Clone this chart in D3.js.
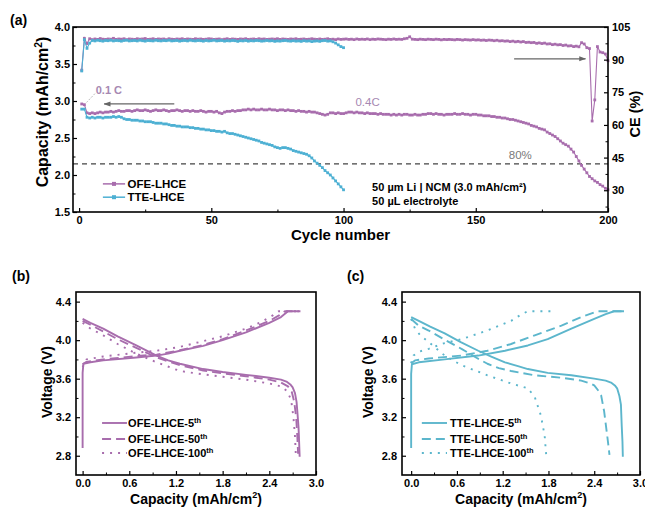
<!DOCTYPE html>
<html><head><meta charset="utf-8">
<script src="https://cdn.jsdelivr.net/npm/d3@7"></script>
<style>body{margin:0;background:#fff}svg{display:block}</style>
</head><body><svg id="c" width="645" height="509"></svg>
<script>
// ---------------- DATA ----------------
// Panel (a): capacity (mAh/cm2) and CE (%) per cycle
const ofeCapacity = [
2.96,2.95,2.84,2.83,2.84,2.83,2.84,2.85,2.84,2.85,
2.85,2.86,2.85,2.86,2.87,2.86,2.86,2.87,2.87,2.86,
2.87,2.88,2.87,2.87,2.88,2.87,2.86,2.87,2.88,2.87,
2.87,2.88,2.87,2.86,2.87,2.87,2.88,2.87,2.86,2.87,
2.87,2.86,2.87,2.86,2.86,2.87,2.86,2.85,2.86,2.86,
2.85,2.86,2.84,2.83,2.85,2.86,2.86,2.87,2.86,2.87,
2.87,2.88,2.88,2.89,2.88,2.89,2.88,2.88,2.89,2.88,
2.88,2.89,2.88,2.88,2.87,2.88,2.88,2.87,2.88,2.87,
2.87,2.86,2.87,2.86,2.86,2.85,2.86,2.85,2.85,2.84,
2.83,2.82,2.81,2.82,2.84,2.84,2.83,2.84,2.83,2.83,
2.84,2.85,2.85,2.84,2.85,2.84,2.84,2.83,2.84,2.83,
2.83,2.83,2.82,2.83,2.82,2.82,2.82,2.81,2.82,2.81,
2.82,2.81,2.82,2.82,2.81,2.81,2.82,2.81,2.81,2.82,
2.82,2.83,2.83,2.82,2.83,2.82,2.82,2.81,2.82,2.82,
2.82,2.83,2.82,2.82,2.83,2.82,2.82,2.81,2.82,2.82,
2.81,2.81,2.80,2.80,2.80,2.79,2.79,2.78,2.78,2.77,
2.77,2.76,2.75,2.75,2.74,2.73,2.72,2.71,2.70,2.69,
2.67,2.66,2.65,2.63,2.62,2.61,2.58,2.56,2.54,2.52,
2.49,2.46,2.43,2.41,2.39,2.35,2.31,2.25,2.19,2.13,
2.08,2.03,1.98,1.95,1.92,1.90,1.87,1.85,1.82,1.80];
const tteCapacity = [
2.89,2.89,2.78,2.77,2.78,2.77,2.78,2.78,2.77,2.78,
2.78,2.78,2.79,2.78,2.79,2.78,2.76,2.75,2.75,2.74,
2.74,2.74,2.73,2.73,2.72,2.72,2.72,2.71,2.70,2.70,
2.70,2.69,2.69,2.68,2.67,2.67,2.66,2.66,2.65,2.65,
2.65,2.64,2.64,2.63,2.63,2.62,2.62,2.61,2.61,2.60,
2.60,2.59,2.59,2.58,2.59,2.57,2.56,2.56,2.55,2.54,
2.53,2.52,2.51,2.50,2.49,2.48,2.47,2.46,2.44,2.43,
2.42,2.41,2.40,2.38,2.37,2.36,2.37,2.37,2.36,2.35,
2.33,2.32,2.31,2.30,2.29,2.28,2.26,2.23,2.19,2.16,
2.13,2.10,2.06,2.03,2.00,1.96,1.92,1.88,1.84,1.80];
const ofeCE = [
85.2,99.8,97.4,99.6,99.2,99.5,99.3,99.7,99.4,99.3,
99.5,99.4,99.8,99.3,99.5,99.4,99.6,99.2,99.5,99.4,
99.3,99.6,99.4,99.5,99.7,99.3,99.4,99.6,99.3,99.5,
99.4,99.5,99.2,99.6,99.4,99.3,99.5,99.4,99.6,99.3,
99.5,99.4,99.3,99.6,99.4,99.5,99.3,99.4,99.6,99.5,
99.3,99.4,99.5,99.2,99.4,99.6,99.3,99.5,99.4,99.3,
99.5,99.4,99.6,99.3,99.4,99.5,99.3,99.6,99.4,99.5,
99.3,99.4,99.5,99.4,99.6,99.3,99.5,99.4,99.3,99.5,
99.4,99.6,99.3,99.4,99.5,99.3,99.4,99.6,99.4,99.3,
99.5,99.3,99.4,99.6,99.3,99.4,99.2,99.5,99.3,99.4,
99.5,99.3,99.4,99.2,99.5,99.3,99.4,99.3,99.5,99.2,
99.4,99.3,99.5,99.4,99.3,99.2,99.4,99.3,99.5,99.3,
99.4,99.3,99.6,99.8,100.5,99.4,99.3,99.2,99.4,99.3,
99.2,99.4,99.3,99.2,99.4,99.3,99.1,99.3,99.2,99.3,
99.2,99.1,99.3,99.2,99.0,99.2,99.1,99.0,99.2,99.0,
99.1,98.9,99.0,98.8,99.0,98.9,98.7,98.9,98.6,98.7,
98.5,98.6,98.3,98.5,98.2,98.4,98.1,98.3,97.9,98.0,
97.8,97.9,97.5,97.7,97.4,97.6,97.2,97.3,96.9,97.1,
96.8,96.9,96.5,96.7,96.3,96.4,96.0,96.2,95.9,97.8,
97.2,95.5,95.1,61.8,71.5,96.0,93.5,93.2,92.6,89.5];
const tteCE = [
84.8,99.2,95.2,97.6,98.8,98.6,98.9,98.7,98.5,98.8,
98.7,98.9,98.6,98.8,98.7,98.5,98.8,98.9,98.6,98.7,
98.8,98.6,98.9,98.7,98.5,98.8,98.7,98.6,98.9,98.7,
98.6,98.8,98.7,98.9,98.6,98.7,98.8,98.5,98.7,98.8,
98.6,98.9,98.7,98.6,98.8,98.7,98.5,98.8,98.6,98.7,
98.9,98.6,98.7,98.8,98.5,98.7,98.6,98.8,98.7,98.4,
98.7,98.6,98.8,98.5,98.7,98.6,98.8,98.7,98.5,98.6,
98.8,98.6,98.7,98.4,98.6,98.5,98.7,98.8,98.6,98.5,
98.7,98.5,98.6,98.4,98.7,98.5,98.6,98.3,98.5,98.6,
98.4,98.7,98.8,98.5,98.6,98.2,97.6,96.8,96.0,95.5];

// Panel (b): OFE-LHCE voltage profiles [capacity, voltage]
const ofe5Charge = [[0,2.88],[0,3.66],[0.01,3.755],[0.1,3.77],[0.265,3.79],[0.69,3.82],[0.95,3.84],[1.1,3.86],[1.25,3.89],[1.55,3.94],[1.8,4.0],[2.1,4.08],[2.4,4.18],[2.55,4.24],[2.64,4.3],[2.80,4.3]];
const ofe5Discharge = [[0,4.22],[0.1,4.18],[0.265,4.12],[0.45,4.04],[0.69,3.945],[0.95,3.84],[1.1,3.79],[1.25,3.755],[1.55,3.70],[1.8,3.67],[2.1,3.64],[2.4,3.61],[2.55,3.59],[2.62,3.57],[2.67,3.54],[2.7,3.51],[2.73,3.45],[2.75,3.36],[2.76,3.26],[2.775,3.1],[2.78,3.01],[2.79,2.79]];
const ofe50Charge = [[0,3.75],[0.05,3.775],[0.265,3.80],[0.69,3.835],[0.95,3.85],[1.25,3.895],[1.55,3.95],[1.8,4.01],[2.1,4.10],[2.4,4.2],[2.53,4.26],[2.6,4.3],[2.78,4.3]];
const ofe50Discharge = [[0,4.2],[0.1,4.16],[0.265,4.09],[0.45,4.01],[0.69,3.92],[0.95,3.82],[1.25,3.74],[1.55,3.685],[1.8,3.655],[2.1,3.625],[2.4,3.59],[2.55,3.56],[2.64,3.52],[2.69,3.46],[2.72,3.36],[2.745,3.2],[2.76,3.0],[2.77,2.82]];
const ofe100Charge = [[0,3.72],[0.05,3.80],[0.265,3.83],[0.69,3.87],[0.95,3.89],[1.25,3.93],[1.55,3.99],[1.8,4.04],[2.1,4.12],[2.3,4.19],[2.45,4.26],[2.52,4.3],[2.75,4.3]];
const ofe100Discharge = [[0,4.18],[0.1,4.12],[0.265,4.05],[0.45,3.96],[0.69,3.86],[0.95,3.77],[1.25,3.68],[1.55,3.645],[1.8,3.62],[2.1,3.59],[2.4,3.55],[2.55,3.52],[2.63,3.47],[2.68,3.38],[2.71,3.2],[2.73,3.0],[2.74,2.82]];

// Panel (c): TTE-LHCE voltage profiles [capacity, voltage]
const tte5Charge = [[0,2.88],[0,3.65],[0.01,3.75],[0.1,3.77],[0.44,3.80],[0.88,3.84],[1.23,3.89],[1.53,3.945],[1.79,4.01],[2.1,4.12],[2.4,4.22],[2.55,4.27],[2.66,4.3],[2.79,4.3]];
const tte5Discharge = [[0,4.24],[0.1,4.2],[0.25,4.14],[0.44,4.07],[0.65,3.98],[0.88,3.89],[1.05,3.83],[1.23,3.77],[1.4,3.73],[1.53,3.70],[1.79,3.66],[2.1,3.635],[2.4,3.60],[2.55,3.58],[2.62,3.56],[2.67,3.53],[2.7,3.50],[2.73,3.42],[2.75,3.33],[2.76,3.12],[2.77,2.95],[2.775,2.79]];
const tte50Charge = [[0,3.76],[0.05,3.79],[0.23,3.81],[0.66,3.84],[1.0,3.89],[1.31,3.96],[1.62,4.05],[1.97,4.15],[2.23,4.24],[2.44,4.3],[2.79,4.3]];
const tte50Discharge = [[0,4.22],[0.1,4.15],[0.23,4.10],[0.45,4.0],[0.66,3.91],[0.85,3.82],[1.0,3.755],[1.15,3.71],[1.31,3.68],[1.62,3.635],[1.97,3.61],[2.23,3.58],[2.35,3.55],[2.4,3.53],[2.45,3.48],[2.49,3.43],[2.53,3.26],[2.57,3.01],[2.6,2.81]];
const tte100Charge = [[0,3.76],[0.03,3.84],[0.1,3.88],[0.23,3.91],[0.44,3.97],[0.66,4.01],[1.0,4.10],[1.31,4.20],[1.45,4.27],[1.53,4.3],[1.83,4.3]];
const tte100Discharge = [[0,4.22],[0.05,4.12],[0.12,4.05],[0.23,3.98],[0.44,3.84],[0.66,3.74],[1.0,3.635],[1.31,3.55],[1.53,3.50],[1.62,3.41],[1.70,3.22],[1.75,3.01],[1.77,2.81]];

// Tick values
const capTicksA = [1.5,2.0,2.5,3.0,3.5,4.0];
const ceTicks = [30,45,60,75,90,105];
const cycleTicks = [0,50,100,150,200];
const voltTicks = [2.8,3.2,3.6,4.0,4.4];
const capTicksBC = [0.0,0.6,1.2,1.8,2.4,3.0];

// ---------------- DRAW ----------------
const svg = d3.select("#c");
const FONT = '"Liberation Sans", Arial, Helvetica, sans-serif';
const PURPLE = "#a86dad", CYAN = "#4db0d3", CYAN_C = "#5cb6cc";

function txt(x, y, s, o={}) {
  const t = svg.append("text").attr("x", x).attr("y", y)
    .attr("font-family", FONT).attr("font-size", o.size||11)
    .attr("font-weight", o.weight||"bold").attr("fill", o.fill||"#000")
    .attr("text-anchor", o.anchor||"start");
  if (s) t.text(s);
  if (o.dy) t.attr("dy", o.dy);
  if (o.rotate) t.attr("transform", `rotate(${o.rotate},${x},${y})`);
  return t;
}
function capLabel(t, fs) {
  t.append("tspan").text("Capacity (mAh/cm");
  t.append("tspan").attr("dy", -fs*0.4).attr("font-size", fs*0.65).text("2");
  t.append("tspan").attr("dy", fs*0.4).text(")");
}
function drawAxis(tr, make, major, minor, fmt, pad) {
  const g = svg.append("g").attr("transform", tr);
  g.call(make().tickValues(major).tickFormat(fmt).tickSize(-4).tickPadding(pad));
  g.select(".domain").remove();
  g.selectAll(".tick line").attr("stroke", "#000").attr("stroke-width", 1.2);
  g.selectAll(".tick text").attr("font-family", FONT).attr("font-size", 11)
    .attr("font-weight", "bold").attr("fill", "#000");
  if (minor) {
    const m = svg.append("g").attr("transform", tr);
    m.call(make().tickValues(minor).tickFormat("").tickSize(-2.5));
    m.select(".domain").remove();
    m.selectAll(".tick line").attr("stroke", "#000").attr("stroke-width", 1);
  }
}
function frame(x0, y0, x1, y1) {
  svg.append("rect").attr("x", x0).attr("y", y0).attr("width", x1-x0).attr("height", y1-y0)
    .attr("fill", "none").attr("stroke", "#000").attr("stroke-width", 1.6);
}

// defs arrow
svg.append("defs").append("marker").attr("id", "arr").attr("viewBox", "0 0 10 10")
  .attr("refX", 9).attr("refY", 5).attr("markerWidth", 7).attr("markerHeight", 7)
  .attr("orient", "auto-start-reverse").attr("markerUnits", "userSpaceOnUse")
  .append("path").attr("d", "M0,1.5 L10,5 L0,8.5 Z").attr("fill", "#666");

// ===== Panel (a) =====
const ax = d3.scaleLinear().domain([-2.3, 200]).range([73, 608]);
const ayL = d3.scaleLinear().domain([1.5, 4.0]).range([212, 27]);
const ayR = d3.scaleLinear().domain([20, 105]).range([212, 27]);

// 80% dashed line
svg.append("line").attr("x1", ax(-2.3)).attr("x2", ax(200)).attr("y1", ayL(2.15)).attr("y2", ayL(2.15))
  .attr("stroke", "#444").attr("stroke-width", 1.3).attr("stroke-dasharray", "5,4");

function series(vals, x, y, color) {
  const pts = vals.map((v, i) => [i + 1, v]);
  svg.append("path").datum(pts)
    .attr("d", d3.line().x(d => x(d[0])).y(d => y(d[1])))
    .attr("fill", "none").attr("stroke", color).attr("stroke-width", 1.1);
  svg.append("g").selectAll("rect").data(pts).join("rect")
    .attr("x", d => x(d[0]) - 1.4).attr("y", d => y(d[1]) - 1.4)
    .attr("width", 2.8).attr("height", 2.8).attr("fill", color);
}
series(ofeCE, ax, ayR, PURPLE);
series(tteCE, ax, ayR, CYAN);
series(ofeCapacity, ax, ayL, PURPLE);
series(tteCapacity, ax, ayL, CYAN);

frame(73, 27, 608, 212);
drawAxis(`translate(73,0)`, () => d3.axisLeft(ayL), capTicksA, [1.75,2.25,2.75,3.25,3.75], d3.format(".1f"), 3);
drawAxis(`translate(608,0)`, () => d3.axisRight(ayR), ceTicks, [22.5,37.5,52.5,67.5,82.5,97.5], d3.format("d"), 4);
drawAxis(`translate(0,212)`, () => d3.axisBottom(ax), cycleTicks, [25,75,125,175], d3.format("d"), 4);

// annotations (a)
svg.append("line").attr("x1", ax(36)).attr("x2", ax(9.5)).attr("y1", ayL(2.96)).attr("y2", ayL(2.96))
  .attr("stroke", "#666").attr("stroke-width", 1.3).attr("marker-end", "url(#arr)");
svg.append("line").attr("x1", ax(164.5)).attr("x2", ax(191.5)).attr("y1", ayR(90.4)).attr("y2", ayR(90.4))
  .attr("stroke", "#666").attr("stroke-width", 1.3).attr("marker-end", "url(#arr)");
svg.append("line").attr("x1", ax(6)).attr("x2", ax(2.8)).attr("y1", ayL(3.10)).attr("y2", ayL(2.98))
  .attr("stroke", "#aaa").attr("stroke-width", 0.8).attr("stroke-dasharray", "2,1.5");
txt(ax(6.3), ayL(3.15), "0.1 C", {fill: "#a688b2", dy: "0.35em"});
txt(ax(104.5), ayL(2.99), "0.4C", {fill: "#a688b2", weight: "normal", size: 11.5, dy: "0.35em"});
txt(ax(162.5), ayL(2.27), "80%", {fill: "#7a7a7a", weight: "normal", size: 11.5, dy: "0.35em"});
txt(ax(110.8), ayL(1.84), "50 µm Li | NCM (3.0 mAh/cm²)", {dy: "0.35em"});
txt(ax(110.8), ayL(1.65), "50 µL electrolyte", {dy: "0.35em"});

// legend (a)
[[ "OFE-LHCE", PURPLE, 1.88 ], [ "TTE-LHCE", CYAN, 1.70 ]].forEach(([name, col, v]) => {
  svg.append("line").attr("x1", ax(9)).attr("x2", ax(17.4)).attr("y1", ayL(v)).attr("y2", ayL(v))
    .attr("stroke", col).attr("stroke-width", 1.5);
  svg.append("rect").attr("x", ax(13.2) - 2).attr("y", ayL(v) - 2).attr("width", 4).attr("height", 4).attr("fill", col);
  txt(ax(18.3), ayL(v), name, {dy: "0.35em", size: 11.5});
});

// axis titles (a)
txt(10, 25, "(a)", {size: 14});
capLabel(txt(48, 112, "", {size: 16, anchor: "middle", rotate: -90}), 16);
txt(340.5, 240, "Cycle number", {size: 15, anchor: "middle"});
txt(640, 114, "CE (%)", {size: 14.5, anchor: "middle", rotate: -90});

// ===== Panels (b) & (c) =====
function voltPanel(x0, x1, xmin, color, curves, names, tag, tagX, ylabX) {
  const x = d3.scaleLinear().domain([xmin, 3.0]).range([x0, x1]);
  const y = d3.scaleLinear().domain([2.6, 4.5]).range([475, 292]);
  const styles = ["none", "9,5", "2,6"];
  const line = d3.line().x(d => x(d[0])).y(d => y(d[1]));
  curves.forEach((pair, k) => {
    pair.forEach(data => {
      svg.append("path").datum(data).attr("d", line).attr("fill", "none")
        .attr("stroke", color).attr("stroke-width", 1.9)
        .attr("stroke-dasharray", styles[k]).attr("stroke-linejoin", "round");
    });
  });
  frame(x0, 292, x1, 475);
  drawAxis(`translate(${x0},0)`, () => d3.axisLeft(y), voltTicks, [3.0,3.4,3.8,4.2], d3.format(".1f"), 5);
  drawAxis(`translate(0,475)`, () => d3.axisBottom(x), capTicksBC, [0.3,0.9,1.5,2.1,2.7], d3.format(".1f"), 4);
  // legend
  const lv = [3.14, 2.974, 2.828];
  names.forEach((nm, k) => {
    svg.append("line").attr("x1", x(nm.l0)).attr("x2", x(nm.l1)).attr("y1", y(lv[k])).attr("y2", y(lv[k]))
      .attr("stroke", color).attr("stroke-width", 1.9).attr("stroke-dasharray", styles[k]);
    const t = txt(x(nm.t), y(lv[k]), "", {dy: "0.35em", size: 11});
    t.append("tspan").text(nm.base);
    t.append("tspan").attr("dy", -4).attr("font-size", 7.5).text("th");
  });
  txt(tagX, 281, tag, {size: 14});
  txt(ylabX, 382, "Voltage (V)", {size: 14, anchor: "middle", rotate: -90});
  capLabel(txt((x0 + x1) / 2, 504, "", {size: 14, anchor: "middle"}), 14);
}

voltPanel(76, 316, -0.085, PURPLE,
  [[ofe5Charge, ofe5Discharge], [ofe50Charge, ofe50Discharge], [ofe100Charge, ofe100Discharge]],
  [{base: "OFE-LHCE-5", l0: 0.25, l1: 0.57, t: 0.585},
   {base: "OFE-LHCE-50", l0: 0.25, l1: 0.57, t: 0.585},
   {base: "OFE-LHCE-100", l0: 0.25, l1: 0.57, t: 0.585}], "(b)", 12, 52);

voltPanel(402, 640, -0.12, CYAN_C,
  [[tte5Charge, tte5Discharge], [tte50Charge, tte50Discharge], [tte100Charge, tte100Discharge]],
  [{base: "TTE-LHCE-5", l0: 0.14, l1: 0.47, t: 0.51},
   {base: "TTE-LHCE-50", l0: 0.14, l1: 0.47, t: 0.51},
   {base: "TTE-LHCE-100", l0: 0.14, l1: 0.47, t: 0.51}], "(c)", 347, 373);
</script></body></html>
